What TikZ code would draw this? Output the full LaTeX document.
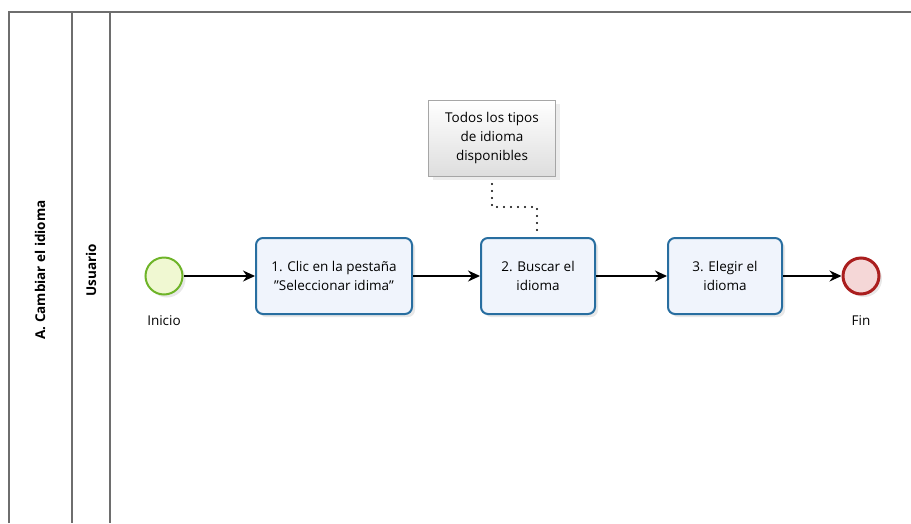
\documentclass[tikz,border=0pt]{standalone}
\usepackage{fontspec}
\setmainfont{Open Sans}
\usetikzlibrary{arrows.meta,shadows,calc}
\definecolor{taskline}{RGB}{40,110,160}
\definecolor{taskfill}{RGB}{240,244,252}
\definecolor{startline}{RGB}{110,180,40}
\definecolor{startfill}{RGB}{240,248,210}
\definecolor{endline}{RGB}{170,30,30}
\definecolor{endfill}{RGB}{245,215,215}
\definecolor{laneline}{RGB}{110,110,110}
\tikzset{
  taskbox/.style={draw=taskline, line width=2pt, fill=taskfill, rounded corners=7pt,
    minimum width=156pt, minimum height=76pt, align=center, font=\fontsize{13.5}{19}\selectfont,
    drop shadow={shadow xshift=3pt, shadow yshift=-3pt, fill=black!15, opacity=0.6}},
  startev/.style={circle, draw=startline, line width=2pt, fill=startfill, minimum size=37pt, inner sep=0pt,
    drop shadow={shadow xshift=3pt, shadow yshift=-3pt, fill=black!15, opacity=0.6}},
  endev/.style={circle, draw=endline, line width=3pt, fill=endfill, minimum size=36pt, inner sep=0pt,
    drop shadow={shadow xshift=3pt, shadow yshift=-3pt, fill=black!15, opacity=0.6}},
  annot/.style={draw=black!35, line width=0.8pt, top color=white, bottom color=black!13,
    minimum width=127pt, minimum height=76pt, align=center, font=\fontsize{13.5}{19}\selectfont,
    drop shadow={shadow xshift=4pt, shadow yshift=-4pt, fill=black!12, opacity=0.6}},
  flow/.style={-{Stealth[length=12pt,width=11pt]}, line width=1.3pt, black},
  assoc/.style={line width=2.2pt, dash pattern=on 0pt off 7pt, line cap=round},
  lbl/.style={font=\fontsize{13.5}{16}\selectfont},
  lanelbl/.style={font=\bfseries\fontsize{13.5}{16}\selectfont, rotate=90},
}
\begin{document}
\begin{tikzpicture}[x=1pt,y=-1pt]
\useasboundingbox (0,0) rectangle (911,523);
% pool and lane
\draw[laneline, line width=1.4pt] (9,523) -- (9,12) -- (911,12);
\draw[laneline, line width=1.2pt] (72,12) -- (72,523);
\draw[laneline, line width=1.2pt] (110,12) -- (110,523);
\node[lanelbl] (pool) at (40,270) {A. Cambiar el idioma};
\node[lanelbl] (lane) at (91,270) {Usuario};
% nodes
\node[startev] (start) at (164,276) {};
\node[lbl] (startl) at (164,321) {Inicio};
\node[taskbox, minimum width=156pt] (t1) at (334,276) {1. Clic en la pestaña\\\char"22 Seleccionar idima\char"22};
\node[taskbox, minimum width=114pt] (t2) at (538,276) {2. Buscar el\\idioma};
\node[taskbox, minimum width=114pt] (t3) at (725,276) {3. Elegir el\\idioma};
\node[endev] (fin) at (861,276) {};
\node[lbl] (finl) at (861,321) {Fin};
\node[annot] (note) at (492,138) {Todos los tipos\\de idioma\\disponibles};
% flows
\draw[flow] (start) -- (t1);
\draw[flow] (t1) -- (t2);
\draw[flow] (t2) -- (t3);
\draw[flow] (t3) -- (fin);
% association
\coordinate (a1) at (492,207);
\coordinate (a2) at (537,207);
\draw[assoc] (note.south |- 0,184) -- (a1) -- (a2) -- (a2 |- t2.north);
\end{tikzpicture}
\end{document}
